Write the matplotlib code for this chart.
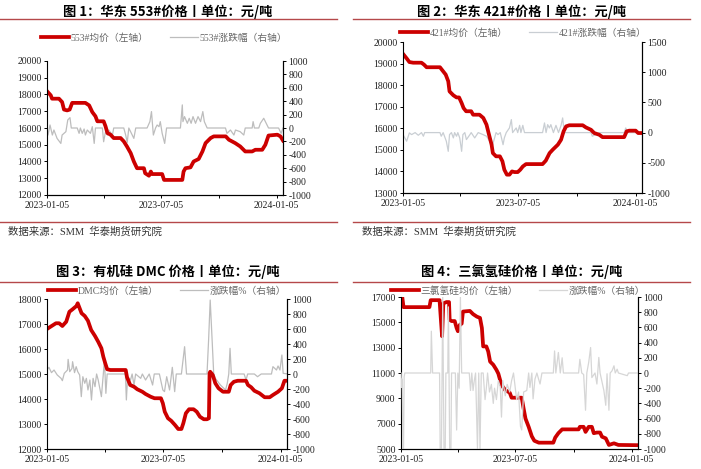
import matplotlib
matplotlib.use("Agg")
import matplotlib.pyplot as plt
from matplotlib.lines import Line2D

plt.rcParams['axes.unicode_minus'] = False

W, H = 701, 469
RED = '#CC0000'
LINE_RED = '#B5484A'
SERIF = ['Liberation Serif', 'Noto Sans CJK SC']
CJK = ['Noto Sans CJK SC', 'DejaVu Sans']

# x = days since 2023-01-05
tick_days = [0, 90, 181, 273, 365]
tick_labels = ['2023-01-05', '', '2023-07-05', '', '2024-01-05']

# ---- 图1 华东553# ----
p1_days = [0, 6, 8, 19, 24, 27, 32, 36, 40, 61, 67, 72, 77, 80, 90, 93, 96, 101, 106, 117, 122, 127, 133, 138,
           143, 154, 156, 162, 165, 167, 183, 186, 215, 217, 220, 228, 233, 241, 247, 252, 260, 265, 284, 289,
           299, 307, 315, 326, 331, 342, 347, 352, 366, 371, 375]
p1_price = [18200, 17950, 17750, 17750, 17550, 17100, 17050, 17100, 17500, 17500, 17350, 16950, 16700, 16400,
            16400, 16100, 15700, 15600, 15400, 15400, 15200, 14900, 14500, 14000, 13600, 13600, 13300, 13150,
            13400, 13250, 13250, 12900, 12900, 13400, 13600, 13650, 14000, 14150, 14600, 15100, 15400, 15500,
            15500, 15300, 15100, 14900, 14600, 14600, 14700, 14700, 15000, 15550, 15600, 15500, 15250]
p1_cdays = [0, 1.6, 4.8, 8.5, 11, 16, 22, 24, 30, 33, 36.5, 38.6, 48, 51, 53, 56, 59, 61, 64, 69, 72, 75, 77, 88,
            90, 93, 96, 98, 104, 106, 122, 125, 127.5, 130, 138, 141, 159, 163.5, 166, 169, 172.5, 175, 178, 180,
            183, 187, 190, 212, 215, 216, 218.5, 223, 226, 229, 232, 236, 240, 244, 247.6, 250, 254.5, 283.6, 286,
            291.5, 297, 299.5, 307, 312.7, 315, 326, 327.5, 329.6, 336.5, 339, 344.4, 347, 352, 368, 372, 375]
p1_chg = [0, -105, 45, -105, -30, -155, -230, -105, -55, 120, 155, 0, 0, -80, 0, -80, -15, -105, -30, -80, 20,
          -230, 0, 0, -205, -55, -105, -30, -105, 0, 0, -105, -215, 0, -155, 0, 0, 95, 245, -105, 0, 45, 20, 95,
          -80, -230, 0, 0, 345, 95, 170, 70, 145, 70, 170, 70, 170, 95, 245, 95, 0, 0, -80, -30, -105, -30, -55,
          -105, 0, 0, 95, 0, 0, 70, 145, 95, 0, 0, -80, 0]

# ---- 图2 华东421# ----
p2_days = [0, 6, 10, 16, 29, 33, 37, 58, 63, 67, 71, 73, 79, 84, 88, 92, 95, 99, 107, 110, 120, 126, 131, 135,
           139, 141, 146, 152, 156, 159, 163, 167, 171, 175, 180, 184, 188, 193, 219, 224, 230, 235, 243, 248,
           252, 256, 261, 282, 287, 295, 300, 308, 313, 347, 351, 355, 365, 369, 375]
p2_price = [19450, 19230, 19070, 19040, 19040, 18950, 18830, 18830, 18640, 18490, 18180, 17710, 17530, 17430,
            17430, 17170, 16940, 16790, 16790, 16630, 16630, 16480, 16170, 15700, 15240, 14850, 14700, 14700,
            14470, 14080, 13850, 13850, 14000, 13970, 13970, 14080, 14230, 14340, 14340, 14500, 14850, 15010,
            15240, 15470, 15860, 16090, 16140, 16140, 16040, 15930, 15780, 15700, 15590, 15590, 15860, 15890,
            15890, 15780, 15780]
p2_cdays = [0, 5.7, 10, 13.5, 19, 24, 29, 32, 34, 58, 60, 63, 68, 71, 73, 76, 79, 81, 84, 86, 89, 92, 94, 97,
            99.5, 105, 107, 112.5, 118, 125.5, 131, 136, 140, 143.7, 146, 149, 152.6, 157, 159, 162, 167, 170,
            172, 177.6, 180, 183, 185, 188, 190.6, 219, 222, 224.5, 227, 229.7, 232, 236, 240, 244, 248, 250.5,
            253, 295, 297, 302.6, 308, 347, 349.5, 352, 370, 375]
p2_chg = [-33, -143, -5, -33, 0, -44, 0, -60, 0, 0, -60, 0, -143, -310, -33, 0, -88, 0, -60, 0, -88, -310, -33, 0,
          -116, -33, 0, -88, 0, -33, -60, -143, -226, -88, 0, -33, 0, -200, -88, 0, 77, 215, 0, 77, 0, 120, 0,
          120, 0, 0, 160, 0, 132, 77, 132, 0, 120, 0, 120, 243, 0, 0, -60, -33, 0, 0, 77, 0, 0, -33]

# ---- 图3 有机硅DMC ----
p3_days = [0, 6, 14, 19, 24, 30, 35, 40, 46, 48, 51, 54, 59, 64, 69, 75, 80, 85, 88, 91, 94, 99, 123, 125, 130,
           136, 141, 149, 154, 162, 168, 178, 181, 184, 189, 194, 200, 205, 210, 213, 217, 222, 229, 234, 239,
           245, 250, 253, 254, 255, 259, 263, 268, 275, 284, 287, 292, 298, 311, 314, 319, 324, 332, 340, 348,
           353, 361, 367, 371, 377]
p3_price = [16800, 16900, 17030, 17030, 16920, 17090, 17490, 17590, 17720, 17830, 17630, 17430, 17320, 17130,
            16760, 16520, 16290, 16030, 15690, 15430, 15190, 15160, 15160, 14870, 14560, 14490, 14390, 14290,
            14200, 14090, 14030, 14030, 13830, 13490, 13230, 13130, 12960, 12800, 12800, 13030, 13430, 13590,
            13590, 13490, 13290, 13190, 13190, 13230, 15030, 15090, 14960, 14630, 14430, 14290, 14290, 14560,
            14690, 14730, 14730, 14560, 14470, 14330, 14230, 14070, 14070, 14160, 14290, 14430, 14730, 14730]
p3_cdays = [0, 3, 7, 11, 16, 22, 24, 27, 32, 33, 35.5, 39, 40, 43, 45.6, 48, 51, 53.6, 56, 59, 61.5, 64, 67,
            69.5, 72, 75, 77.5, 80, 83, 85, 88, 89.7, 92, 94, 122.5, 124, 126, 130.5, 133, 136, 138.5, 146.4, 149,
            154, 159.7, 165, 167.6, 175.6, 181, 183.6, 187, 191.5, 195.8, 199.5, 202, 210, 215, 218, 250, 252.5,
            255, 258, 260.5, 263, 271, 279, 281.7, 284, 286, 288, 308, 311, 313.5, 324, 329, 334.7, 350.7, 353,
            358.6, 361, 364, 367, 369, 377]
p3_chg = [53, 89, 18, 53, -13, -58, -89, 9, 53, 195, 31, 75, 164, 18, 98, 31, -13, -302, -36, -124, -58, -213,
          -80, -346, -58, -169, 0, -80, -213, -302, 0, 186, -258, 0, 0, -346, -36, -80, 0, -147, 0, -58, 0, -80,
          0, -147, 0, 0, -213, -235, -36, -213, 89, -235, 0, 0, 364, 0, 0, 453, 986, 453, 0, -58, -147, -213,
          -124, 0, 342, 0, 0, -80, 0, 0, -36, 0, 0, 98, 53, 107, 53, 253, 9, 0]

# ---- 图4 三氯氢硅 ----
p4_days = [2, 4, 45, 47, 61, 63, 65, 67, 72, 76, 77, 80, 85, 88, 90, 93, 96, 98, 109, 114, 120, 125, 128, 130,
           135, 138, 141, 146, 151, 154, 159, 165, 172, 175, 191, 194, 197, 202, 207, 211, 218, 241, 244, 249,
           255, 281, 283, 289, 292, 297, 302, 305, 310, 315, 318, 324, 329, 337, 344, 377]
p4_price = [17000, 16200, 16200, 16750, 16750, 15300, 13900, 16500, 16600, 16600, 15200, 15100, 15100, 14550,
            14300, 14800, 14900, 15850, 15900, 15650, 15450, 15350, 14550, 13100, 13100, 12700, 11900, 11650,
            11250, 10950, 10050, 9650, 9450, 9050, 9050, 8200, 7400, 6750, 6000, 5650, 5500, 5500, 5900, 6250,
            6550, 6550, 6750, 6750, 6350, 6750, 6750, 6250, 6300, 6300, 5970, 5840, 5320, 5450, 5320, 5300]
p4_cdays = [0, 1, 2, 3, 4, 5, 6, 47, 48, 50, 61, 62, 64, 65, 66, 67, 68, 70, 71, 74, 75, 76, 77, 79, 80, 86, 88,
            90, 92, 94, 96, 108, 110, 112, 114, 116, 118, 121, 123, 125, 127, 130, 133, 135, 137, 140, 143, 146,
            148, 151, 154, 157, 159, 161, 165, 168, 172, 175, 178, 183, 186, 189, 191, 194, 199, 202, 204, 207,
            209, 212, 215, 217, 220, 223, 241, 243, 245, 249, 252, 255, 257, 281, 283, 286, 289, 292, 294, 297,
            300, 302, 307, 310, 313, 315, 321, 324, 326, 329, 331, 334, 337, 339, 342, 344, 350, 358, 360, 377]
p4_chg = [0, -190, -80, -1000, -1000, -50, 0, 0, 550, 0, 0, -1000, -1000, 0, 1000, 0, -1000, -1000, 0, 0, 870,
          0, -1000, -1000, 0, 0, -750, 0, -200, 1000, 0, 0, -230, 0, -230, -100, 0, -1000, 0, -1000, 0, 0, -350,
          -200, 0, -250, -150, -400, -200, -350, -100, -180, -580, -100, -300, -150, -250, -100, 0, -350, -250,
          -700, -750, -250, -230, 0, -190, 0, -340, -80, 0, -60, -145, 0, 0, 290, 0, 270, 0, 200, 0, 0, 180, 0,
          -20, -490, 0, 140, 335, -60, 0, -145, 205, 0, -230, -425, -10, -490, 0, 30, 95, 0, 50, 0, -15, -35, 0,
          0]


def fx(px):
    return px / W


def fy(py):
    return 1 - py / H


fig = plt.figure(figsize=(W / 100, H / 100), dpi=100)


def hline(y, x0, x1):
    fig.add_artist(Line2D([fx(x0), fx(x1)], [fy(y), fy(y)], color=LINE_RED, lw=1.0))


def panel(rect, title, title_xy, days, price, cdays, chg, names, leg_xy, ylim, yticks, y2lim, y2ticks,
          gray, red_top=True):
    l, t, r, b = rect
    ax = fig.add_axes([fx(l), fy(b), fx(r - l), (b - t) / H])
    ax2 = ax.twinx()
    h1, = ax.plot(days, price, color=RED, lw=2.7, solid_joinstyle='round')
    h2, = ax2.plot(cdays, chg, color=gray, lw=0.9)
    if red_top:
        ax.set_zorder(ax2.get_zorder() + 1)
        ax.patch.set_visible(False)
    ax.set_xlim(0, 375)
    ax.set_ylim(*ylim)
    ax.set_yticks(yticks)
    ax2.set_ylim(*y2lim)
    ax2.set_yticks(y2ticks)
    ax.set_xticks(tick_days)
    ax.set_xticklabels(tick_labels)
    for a in (ax, ax2):
        a.spines['top'].set_visible(False)
        for s in a.spines.values():
            s.set_linewidth(0.8)
        a.tick_params(direction='out', length=2.5, width=0.7, labelsize=7, pad=1.5)
        for lab in a.get_xticklabels() + a.get_yticklabels():
            lab.set_family(SERIF)
            lab.set_color('#222222')
    ax2.spines['left'].set_visible(False)
    ax.tick_params(axis='x', pad=2)
    ax.legend([h1, h2], names, loc='center', bbox_to_anchor=(fx(leg_xy[0]), fy(leg_xy[1])),
              bbox_transform=fig.transFigure, ncol=2, frameon=False, handlelength=2.9,
              handletextpad=0.15, columnspacing=2.2, borderpad=0,
              prop={'family': SERIF, 'size': 7}, labelcolor='#666666')
    fig.text(fx(title_xy[0]), fy(title_xy[1]), title, ha='center', va='center',
             family=CJK, weight='bold', size=9.5)
    return ax, ax2


panel((47, 61, 283, 195), '图 1：华东 553#价格丨单位：元/吨', (168, 12),
      p1_days, p1_price, p1_cdays, p1_chg, ['553#均价（左轴）', '553#涨跌幅（右轴）'], (164, 38),
      (12000, 20000), range(12000, 20001, 1000), (-1000, 1000), range(-1000, 1001, 200), '#BDBDBD')

panel((403, 42, 642, 193), '图 2：华东 421#价格丨单位：元/吨', (522, 12),
      p2_days, p2_price, p2_cdays, p2_chg, ['421#均价（左轴）', '421#涨跌幅（右轴）'], (523, 33),
      (13000, 20000), range(13000, 20001, 1000), (-1000, 1500), range(-1000, 1501, 500), '#C9CED3')

panel((47, 299, 287, 449), '图 3：有机硅 DMC 价格丨单位：元/吨', (168, 272),
      p3_days, p3_price, p3_cdays, p3_chg, ['DMC均价（左轴）', '涨跌幅%（右轴）'], (167, 291),
      (12000, 18000), range(12000, 18001, 1000), (-1000, 1000), range(-1000, 1001, 200), '#BDBDBD')

panel((401, 297, 638, 449), '图 4：三氯氢硅价格丨单位：元/吨', (522, 272),
      p4_days, p4_price, p4_cdays, p4_chg, ['三氯氢硅均价（左轴）', '涨跌幅%（右轴）'], (518, 291),
      (5000, 17000), range(5000, 17001, 2000), (-1000, 1000), range(-1000, 1001, 200), '#D6D6D6',
      red_top=False)

hline(19.5, 0, 337)
hline(19.5, 353, 690)
hline(222, 0, 337)
hline(222, 353, 690)
hline(282, 0, 337)
hline(282, 353, 690)

src = '数据来源：SMM  华泰期货研究院'
fig.text(fx(8), fy(232), src, ha='left', va='center', family=SERIF, size=7.5, color='#333333')
fig.text(fx(362), fy(232), src, ha='left', va='center', family=SERIF, size=7.5, color='#333333')

fig.savefig('out.png', dpi=100)
